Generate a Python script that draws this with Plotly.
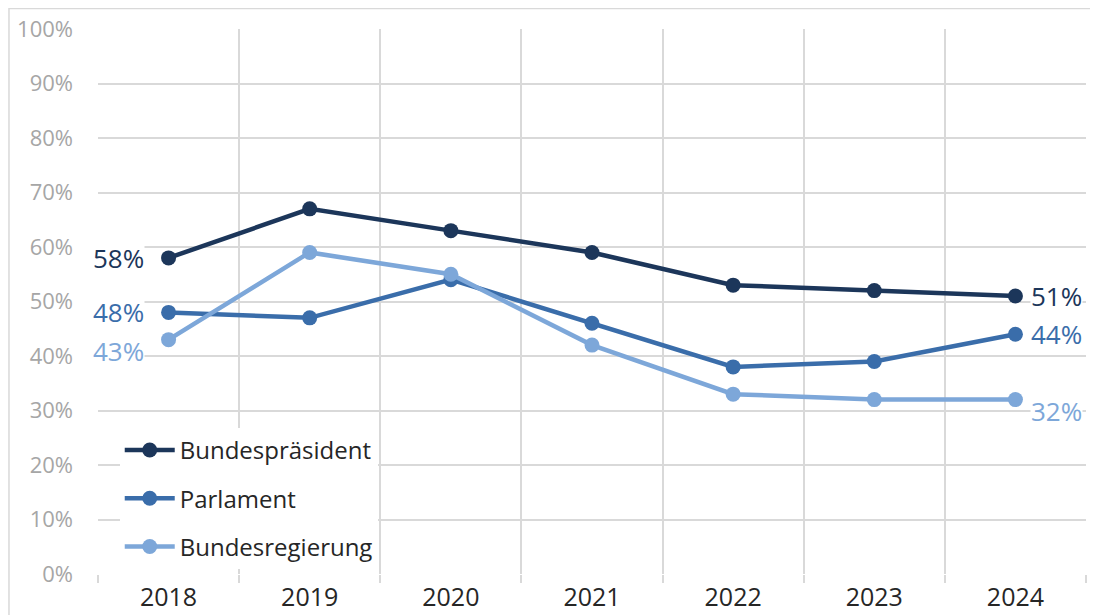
import plotly.graph_objects as go

years = ["2018", "2019", "2020", "2021", "2022", "2023", "2024"]
bundespraesident = [58, 67, 63, 59, 53, 52, 51]
parlament = [48, 47, 54, 46, 38, 39, 44]
bundesregierung = [43, 59, 55, 42, 33, 32, 32]
series_names = ["Bundespräsident", "Parlament", "Bundesregierung"]
y_ticks = list(range(0, 101, 10))

colors = ["#1C365A", "#3A6DAA", "#7DA7D9"]
series = [bundespraesident, parlament, bundesregierung]
FONT = "Open Sans"

fig = go.Figure()
for i, (name, vals) in enumerate(zip(series_names, series)):
    fig.add_trace(go.Scatter(
        x=years, y=vals, name=name, mode="lines+markers",
        line=dict(color=colors[i], width=4.5),
        marker=dict(color=colors[i], size=15),
        legendgroup=name,
    ))

# end labels (x given as category index)
label_shift_first = [0, 0, -11]
label_shift_last = [0, 0, -11]
last = len(years) - 1
for i, vals in enumerate(series):
    fig.add_annotation(x=0, y=vals[0], text=f"{vals[0]}%", showarrow=False,
                       xanchor="right", xshift=-24, yshift=label_shift_first[i],
                       font=dict(size=26, color=colors[i], family=FONT),
                       bgcolor="white", borderpad=0)
    fig.add_annotation(x=last, y=vals[-1], text=f"{vals[-1]}%", showarrow=False,
                       xanchor="left", xshift=15, yshift=label_shift_last[i],
                       font=dict(size=26, color=colors[i], family=FONT),
                       bgcolor="white", borderpad=0)

# outer chart border
fig.add_shape(type="rect", xref="paper", yref="paper",
              x0=-0.0901, x1=1.0101, y0=-0.3, y1=1.0375,
              line=dict(color="#D9D9D9", width=1.5), fillcolor="rgba(0,0,0,0)", layer="below")

fig.update_layout(
    width=1090, height=607,
    margin=dict(l=90, r=12, t=21, b=41, autoexpand=False),
    paper_bgcolor="white", plot_bgcolor="white",
    showlegend=True,
    legend=dict(x=0.022, y=0.268, xanchor="left", yanchor="top",
                bgcolor="white", font=dict(size=24, color="#262626", family=FONT),
                traceorder="grouped", tracegroupgap=14, itemwidth=50),
    xaxis=dict(type="category", tickson="boundaries", showgrid=True, automargin=False,
               gridcolor="#D9D9D9", gridwidth=1.5, showline=False,
               ticks="outside", ticklen=8, tickcolor="#D9D9D9", tickwidth=1.5,
               ticklabelstandoff=6,
               tickfont=dict(size=25, color="#262626", family=FONT),
               range=[-0.5, 6.5], fixedrange=True),
    yaxis=dict(range=[0, 100], tickvals=y_ticks, ticktext=[f"{v}%" for v in y_ticks],
               showgrid=True, gridcolor="#D9D9D9", gridwidth=1.5, zeroline=False,
               showline=False, ticks="", ticklabelstandoff=24, automargin=False,
               tickfont=dict(size=22, color="#A6A6A6", family=FONT)),
)

fig.write_html("out.html")
